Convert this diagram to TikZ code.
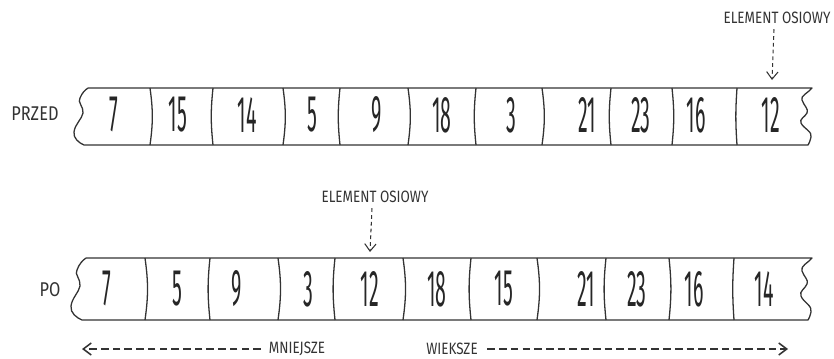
\documentclass[tikz,border=0pt]{standalone}
\usepackage{fontspec}
\setsansfont{Fira Sans}
\newfontfamily\numfont[FakeStretch=0.38]{Fira Sans}
\newfontfamily\capfont[FakeStretch=0.82]{Fira Sans}
\usetikzlibrary{arrows.meta,positioning}

\begin{document}
\begin{tikzpicture}[
            x=0.3mm, y=-0.3mm,
            ink/.style={draw=black!80, line width=1.1pt, line join=round},
            num/.style={font=\numfont\fontsize{44}{46}\selectfont, text=black!85, inner sep=0pt},
            tag/.style={font=\capfont\fontsize{14}{15}\selectfont, text=black!80, inner sep=1pt},
            side/.style={font=\capfont\fontsize{17}{18}\selectfont, text=black!80, inner sep=1pt},
            hint/.style={-{Straight Barb[length=2.2mm,width=3.4mm]}, draw=black!80, line width=0.9pt,
                                        dash pattern=on 3.2pt off 2.6pt},
            span/.style={-{Straight Barb[length=2.4mm,width=3.6mm]}, draw=black!80, line width=1.3pt,
                                        dash pattern=on 6.5pt off 3.5pt}
        ]
        \useasboundingbox (0,0) rectangle (834,358);

        % Before: strip outline
        \draw[ink] (88,88) -- (812,88)
            .. controls (808,93) and (800,96) .. (802,100)
            .. controls (804,106) and (809,109) .. (807,113)
            .. controls (805,117) and (799,119) .. (801,123)
            .. controls (803,128) and (813,132) .. (811,137)
            .. controls (810,141) and (809,144) .. (808,145)
            -- (84,145)
            .. controls (79,143) and (73,138) .. (74,132)
            .. controls (75,124) and (82,119) .. (83,113)
            .. controls (84,107) and (77,102) .. (80,98)
            .. controls (82,93) and (85,90) .. (88,88);
        \foreach \x/\b in {150/8,213/-6,283/8,340/-6,408/8,476/-6,542/8,611/-6,672/6,737/-4}
            \draw[ink] (\x,88) to[bend left=\b] (\x,145);

        % After: strip outline
        \draw[ink] (86,258) -- (812,258)
            .. controls (808,263) and (800,266) .. (802,271)
            .. controls (804,277) and (809,280) .. (807,284)
            .. controls (805,289) and (799,291) .. (801,296)
            .. controls (803,302) and (813,306) .. (811,312)
            .. controls (810,316) and (809,319) .. (808,320)
            -- (82,320)
            .. controls (77,318) and (70,313) .. (71,306)
            .. controls (72,298) and (79,292) .. (80,286)
            .. controls (81,279) and (74,274) .. (77,270)
            .. controls (79,264) and (83,260) .. (86,258);
        \foreach \x/\b in {145/8,210/-6,278/8,335/-6,403/8,471/-6,537/8,606/-6,669/6,734/-4}
            \draw[ink] (\x,258) to[bend left=\b] (\x,320);

        % Values
        \foreach \x/\v [count=\i] in {114/7,178/15,247/14,312/5,377/9,442/18,511/3,587/21,641/23,696/16,771/12}
            \node[num] (b\i) at (\x,115) {\v};
        \foreach \x/\v [count=\i] in {107/7,177/5,237/9,308/3,370/12,437/18,504/15,586/21,637/23,694/16,764/14}
            \node[num] (a\i) at (\x,289) {\v};

        % Row names
        \node[side] (before) at (35,114) {PRZED};
        \node[side] (after) at (50,290) {PO};

        % Pivot marks
        \node[tag] (pivb) at (777,18) {ELEMENT OSIOWY};
        \coordinate (pivbend) at (772,80);
        \draw[hint] (pivb.south -| pivbend) ++(2,4) -- (pivbend);
        \node[tag] (piva) at (375,197) {ELEMENT OSIOWY};
        \coordinate (pivaend) at (370,252);
        \draw[hint] (piva.south -| pivaend) ++(2,4) -- (pivaend);

        % Smaller / greater
        \node[tag] (less) at (297,349) {MNIEJSZE};
        \node[tag] (more) at (452,349) {WIEKSZE};
        \coordinate (lessend) at (82,349);
        \coordinate (moreend) at (788,349);
        \draw[span] ([xshift=-2mm]less.west) -- (lessend);
        \draw[span] ([xshift=2.5mm]more.east) -- (moreend);

        \end{tikzpicture}
\end{document}
